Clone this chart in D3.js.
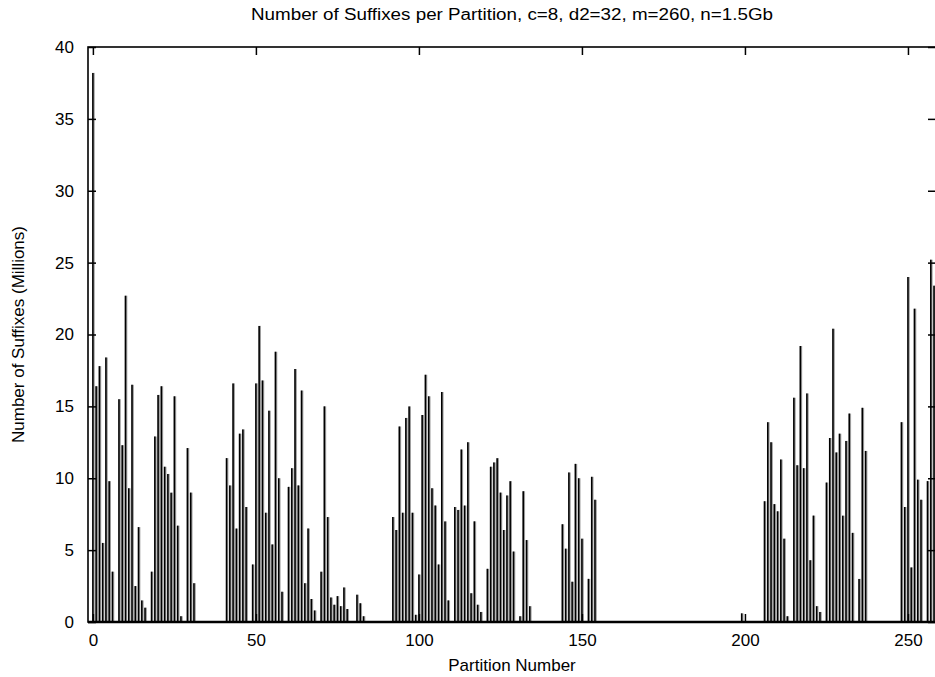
<!DOCTYPE html>
<html>
<head>
<meta charset="utf-8">
<script src="https://cdn.jsdelivr.net/npm/d3@7"></script>
<style>
  body { margin: 0; background: #fff; }
  text { font-family: "Liberation Sans", Arial, Helvetica, sans-serif; fill: #000; }
</style>
</head>
<body>
<div id="main_div"></div>
<script>

// suffix counts (millions) for partitions 0..258
const suffixes = [
    38.2, 16.4, 17.8, 5.5, 18.4, 9.8, 3.5, 0, 15.5, 12.3,
    22.7, 9.3, 16.5, 2.5, 6.6, 1.5, 1.0, 0, 3.5, 12.9,
    15.8, 16.4, 10.8, 10.3, 9.0, 15.7, 6.7, 0.4, 0, 12.1,
    9.0, 2.7, 0, 0, 0, 0, 0, 0, 0, 0,
    0, 11.4, 9.5, 16.6, 6.5, 13.1, 13.4, 8.0, 0, 4.0,
    16.6, 20.6, 16.8, 7.6, 14.7, 5.4, 18.8, 10.0, 2.1, 0,
    9.4, 10.7, 17.6, 9.5, 16.1, 2.7, 6.5, 1.6, 0.8, 0,
    3.5, 15.0, 7.3, 1.7, 1.2, 1.8, 1.1, 2.4, 0.9, 0,
    0, 1.9, 1.3, 0.4, 0, 0, 0, 0, 0, 0,
    0, 0, 7.3, 6.4, 13.6, 7.6, 14.2, 15.0, 7.6, 0.5,
    3.3, 14.4, 17.2, 15.7, 9.3, 8.1, 4.0, 16.0, 7.0, 1.5,
    0, 8.0, 7.8, 12.0, 8.1, 12.5, 2.0, 7.0, 1.2, 0.7,
    0, 3.7, 10.8, 11.1, 11.4, 9.0, 6.4, 8.8, 9.8, 4.9,
    0, 0.4, 9.1, 5.7, 1.1, 0, 0, 0, 0, 0,
    0, 0, 0, 0, 6.8, 5.1, 10.4, 2.8, 11.0, 10.0,
    5.8, 0, 3.0, 10.1, 8.5, 0, 0, 0, 0, 0,
    0, 0, 0, 0, 0, 0, 0, 0, 0, 0,
    0, 0, 0, 0, 0, 0, 0, 0, 0, 0,
    0, 0, 0, 0, 0, 0, 0, 0, 0, 0,
    0, 0, 0, 0, 0, 0, 0, 0, 0, 0.6,
    0, 0, 0, 0, 0, 0, 8.4, 13.9, 12.5, 8.2,
    7.7, 11.3, 5.8, 0.4, 0, 15.6, 10.9, 19.2, 10.7, 15.9,
    4.3, 7.4, 1.1, 0.7, 0, 9.7, 12.8, 20.4, 11.8, 13.1,
    7.4, 12.6, 14.5, 6.2, 0, 3.0, 14.9, 11.9, 0, 0,
    0, 0, 0, 0, 0, 0, 0, 0, 13.9, 8.0,
    24.0, 3.8, 21.8, 9.9, 8.5, 0, 9.8, 25.2, 23.4
];

const xTicks = [0, 50, 100, 150, 200, 250];
const yTicks = [0, 5, 10, 15, 20, 25, 30, 35, 40];

const titleText = "Number of Suffixes per Partition, c=8, d2=32, m=260, n=1.5Gb";
const xLabel = "Partition Number";
const yLabel = "Number of Suffixes (Millions)";

function draw() {
    const W = 935, H = 677;
    const left = 88, right = 936, top = 47, bottom = 622;

    const svg = d3.select("#main_div")
        .append("svg")
        .attr("width", W)
        .attr("height", H);

    const xScale = d3.scaleLinear()
        .domain([-1.5, 258.6])
        .range([left, right]);

    const yScale = d3.scaleLinear()
        .domain([0, 40])
        .range([bottom, top]);

    const data = suffixes.map((v, i) => ({ p: i, v: v })).filter(d => d.v > 0);

    // impulses: grey body with a black edge
    svg.append("g").selectAll("rect")
        .data(data)
        .enter()
        .append("rect")
        .attr("x", d => xScale(d.p) - 0.8)
        .attr("y", d => yScale(d.v))
        .attr("width", 2.6)
        .attr("height", d => yScale(0) - yScale(d.v))
        .attr("fill", "#9a9a9a");

    svg.append("g").selectAll("line")
        .data(data)
        .enter()
        .append("line")
        .attr("x1", d => xScale(d.p))
        .attr("x2", d => xScale(d.p))
        .attr("y1", d => yScale(d.v))
        .attr("y2", yScale(0))
        .attr("stroke", "#000")
        .attr("stroke-width", 1.5);

    // frame with inward ticks on all four sides
    const tick = 8;
    const xAxisB = d3.axisBottom(xScale).tickValues(xTicks).tickSize(-tick).tickPadding(12);
    const xAxisT = d3.axisTop(xScale).tickValues(xTicks).tickSize(-tick).tickFormat("");
    const yAxisL = d3.axisLeft(yScale).tickValues(yTicks).tickSize(-tick).tickPadding(14);
    const yAxisR = d3.axisRight(yScale).tickValues(yTicks).tickSize(-tick).tickFormat("");

    function style(g) {
        g.select(".domain").remove();
        g.selectAll(".tick line").attr("stroke", "#000").attr("stroke-width", 1.5);
        g.selectAll(".tick text").style("font-size", "17px").attr("fill", "#000");
    }

    svg.append("g").attr("transform", `translate(0,${bottom})`).call(xAxisB).call(style);
    svg.append("g").attr("transform", `translate(0,${top})`).call(xAxisT).call(style);
    svg.append("g").attr("transform", `translate(${left},0)`).call(yAxisL).call(style);
    svg.append("g").attr("transform", `translate(${right},0)`).call(yAxisR).call(style);

    svg.append("rect")
        .attr("x", left)
        .attr("y", top)
        .attr("width", right - left)
        .attr("height", bottom - top)
        .attr("fill", "none")
        .attr("stroke", "#000")
        .attr("stroke-width", 1.6);

    svg.append("line")
        .attr("x1", left).attr("x2", right)
        .attr("y1", bottom).attr("y2", bottom)
        .attr("stroke", "#000")
        .attr("stroke-width", 2.4);

    svg.append("text")
        .attr("x", (left + right) / 2)
        .attr("y", 20)
        .attr("text-anchor", "middle")
        .attr("textLength", 522)
        .attr("lengthAdjust", "spacingAndGlyphs")
        .style("font-size", "16px")
        .text(titleText);

    svg.append("text")
        .attr("x", (left + right) / 2)
        .attr("y", 671)
        .attr("text-anchor", "middle")
        .style("font-size", "17px")
        .text(xLabel);

    svg.append("text")
        .attr("transform", `translate(24,${(top + bottom) / 2}) rotate(-90)`)
        .attr("text-anchor", "middle")
        .style("font-size", "17px")
        .text(yLabel);
}

draw();
</script>
</body>
</html>
